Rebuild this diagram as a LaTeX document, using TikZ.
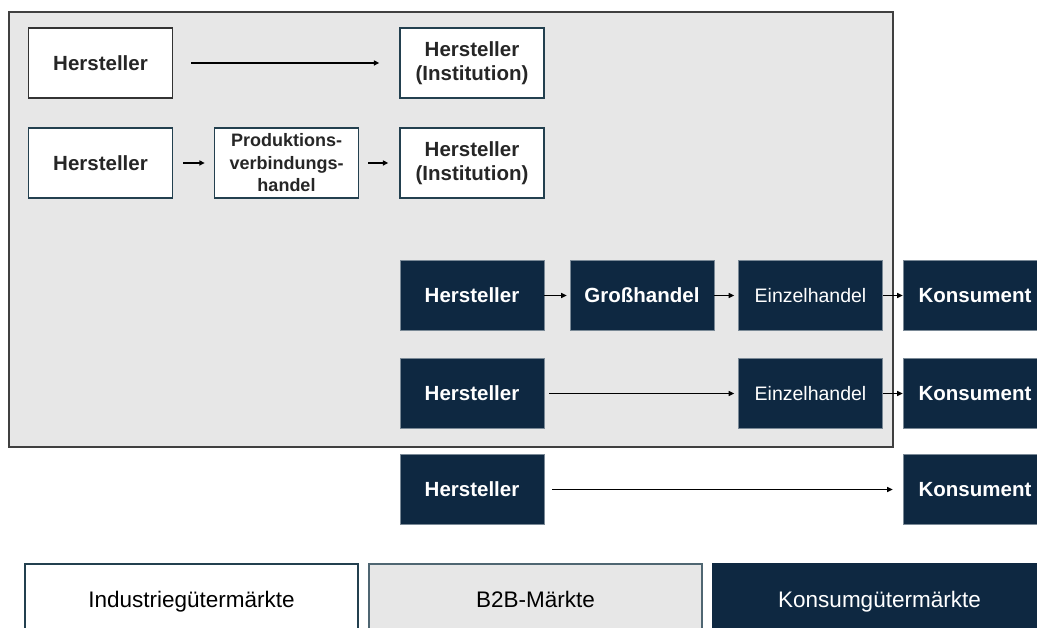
\documentclass[tikz,border=0pt]{standalone}
\usepackage{fontspec}
\setmainfont{Liberation Sans}
\usetikzlibrary{arrows.meta}
\definecolor{konsnavy}{HTML}{0E2841}
\definecolor{btobgray}{HTML}{E7E7E7}
\definecolor{edgeteal}{HTML}{23404F}

\begin{document}
\begin{tikzpicture}[x=1pt,y=-1pt,
      base/.style={rectangle,minimum width=144pt,minimum height=70pt,inner sep=2pt,align=center,
        font=\fontsize{20.5}{24.5}\selectfont\bfseries},
      W/.style={base,draw=edgeteal,line width=1.3pt,fill=white,text=black!85},
      WK/.style={W,draw=black!80},
      N/.style={base,draw=konsnavy!55!white,line width=0.6pt,fill=konsnavy,text=white},
      small/.style={font=\fontsize{18}{22.5}\selectfont\bfseries},
      retail/.style={font=\fontsize{19.5}{22}\selectfont},
      L/.style={rectangle,minimum width=333pt,minimum height=76pt,line width=1.3pt,
        text height=15pt,text depth=4pt,
        draw=edgeteal,font=\fontsize{22.5}{26}\selectfont},
      arr/.style={-{Triangle[length=5.5pt,width=5pt]},line width=1.3pt},
    ]
      \useasboundingbox (0,0) rectangle (1037,628);

      % B2B frame
      \draw[fill=btobgray,draw=black!75,line width=1.6pt] (9,12) rectangle (893,447);

      % Industriegueter rows
      \node[WK] (h1) at (100.5,63) {Hersteller};
      \node[W]  (i1) at (472,63)   {Hersteller\\(Institution)};

      \node[W]  (h2) at (100.5,163) {Hersteller};
      \node[W,small] (p2) at (286.5,163) {Produktions-\\verbindungs-\\handel};
      \node[W]  (i2) at (472,163)   {Hersteller\\(Institution)};

      % Konsumgueter rows
      \node[N] (h3) at (472,295.5) {Hersteller};
      \node[N] (g3) at (642,295.5) {Großhandel};
      \node[N,retail] (e3) at (810.5,295.5) {Einzelhandel};
      \node[N] (k3) at (975,295.5) {Konsument};

      \node[N] (h4) at (472,393.5) {Hersteller};
      \node[N,retail] (e4) at (810.5,393.5) {Einzelhandel};
      \node[N] (k4) at (975,393.5) {Konsument};

      \node[N] (h5) at (472,489.5) {Hersteller};
      \node[N] (k5) at (975,489.5) {Konsument};

      % Arrows (from/to/shorten start/shorten end)
      \foreach \a/\b/\s/\t in {h1/i1/18/20, h2/p2/10/9, p2/i2/9/11,
          h3/g3/0/3, g3/e3/0/4, e3/k3/0/0,
          h4/e4/5/4, e4/k4/0/0, h5/k5/8/10}
        \draw[arr,shorten <=\s pt,shorten >=\t pt] (\a) -- (\b);

      % Legend
      \node[L,fill=white] (lind) at (191.5,602) {Industriegütermärkte};
      \node[L,fill=btobgray,draw=edgeteal!80] (lbtob) at (535.5,602) {B2B-Märkte};
      \node[L,fill=konsnavy,draw=konsnavy,text=white] (lkons) at (879.5,602) {Konsumgütermärkte};
    \end{tikzpicture}
\end{document}
